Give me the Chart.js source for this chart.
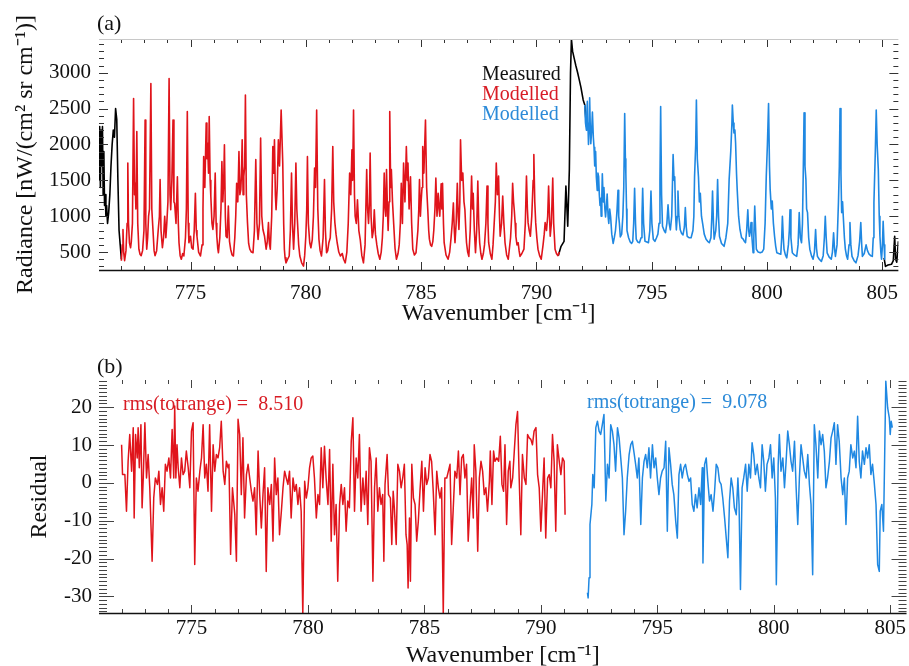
<!DOCTYPE html>
<html><head><meta charset="utf-8">
<script src="https://cdn.jsdelivr.net/npm/chart.js@4/dist/chart.umd.min.js"></script>
<style>
html,body{margin:0;padding:0;background:#fff;overflow:hidden;}
#wrap{position:relative;width:909px;height:666px;background:#fff;}
canvas{position:absolute;left:0;}
#ca{top:0;width:909px;height:330px;}
#cb{top:330px;width:909px;height:336px;}
</style></head><body>
<div id="wrap"><canvas id="ca" width="909" height="330"></canvas><canvas id="cb" width="909" height="336"></canvas></div>
<script>
// ---------- tick labels ----------
const wavenumberTicks = [775, 780, 785, 790, 795, 800, 805];
const radianceTicks = [500, 1000, 1500, 2000, 2500, 3000];
const residualTicks = [-30, -20, -10, 0, 10, 20];

// ---------- panel (a): measured radiance (visible parts) ----------
const measLeftX = [771.03,771.05,771.07,771.09,771.12,771.15,771.18,771.21,771.24,771.27,771.30,771.33,771.36,771.40,771.45,771.50,771.55,771.60,771.65,771.70,771.75,771.80,771.85,771.90,771.95,772.00];
const measLeftY = [2200,1500,2250,1400,2200,1700,2250,1300,1900,1150,1300,1000,1150,900,1050,1300,1700,2000,2200,2100,2500,2350,1500,800,600,400];
const measMidX = [790.95,791.07,791.20,791.28,791.36,791.43,791.48,791.52,791.57,791.64,791.71,791.79,791.86,791.93,792.03,792.10,792.17];
const measMidY = [450,580,650,1420,860,1650,3000,3470,3300,3200,3100,3000,2900,2800,2620,2550,2250];
const measRightX = [805.08,805.14,805.25,805.40,805.48,805.54,805.58,805.63,805.70];
const measRightY = [420,300,320,330,380,720,400,360,650];

// ---------- panel (a): modelled radiance, red part ----------
const redX = [772.00,772.04,772.07,772.10,772.14,772.20,772.25,772.28,772.31,772.35,772.40,772.43,772.48,772.53,772.57,772.60,772.63,772.67,772.71,772.76,772.81,772.86,772.92,772.98,773.03,773.06,773.10,773.14,773.18,773.22,773.28,773.32,773.37,773.42,773.46,773.53,773.60,773.65,773.68,773.72,773.78,773.83,773.88,773.93,773.97,774.02,774.07,774.11,774.14,774.19,774.24,774.28,774.31,774.37,774.43,774.47,774.50,774.55,774.60,774.66,774.71,774.78,774.82,774.86,774.90,774.93,775.00,775.05,775.11,775.16,775.21,775.25,775.28,775.35,775.43,775.50,775.54,775.57,775.62,775.68,775.71,775.74,775.78,775.81,775.85,775.88,775.93,775.97,776.02,776.07,776.11,776.14,776.18,776.21,776.27,776.32,776.36,776.40,776.44,776.47,776.51,776.54,776.59,776.64,776.69,776.74,776.80,776.86,776.92,776.96,777.00,777.05,777.10,777.14,777.18,777.21,777.24,777.28,777.31,777.35,777.38,777.42,777.47,777.52,777.57,777.64,777.71,777.77,777.83,777.88,777.93,777.99,778.04,778.09,778.14,778.21,778.28,778.33,778.38,778.42,778.46,778.52,778.57,778.61,778.64,778.68,778.71,778.76,778.81,778.86,778.93,779.00,779.04,779.07,779.10,779.14,779.21,779.28,779.33,779.38,779.42,779.47,779.52,779.57,779.61,779.64,779.69,779.74,779.82,779.90,779.95,780.00,780.04,780.07,780.11,780.17,780.22,780.28,780.33,780.38,780.42,780.47,780.52,780.57,780.62,780.68,780.75,780.81,780.85,780.90,780.95,781.00,781.06,781.12,781.17,781.21,781.26,781.31,781.36,781.43,781.50,781.58,781.64,781.71,781.78,781.84,781.90,781.95,782.00,782.03,782.07,782.11,782.14,782.19,782.24,782.30,782.36,782.43,782.50,782.57,782.64,782.68,782.72,782.76,782.79,782.83,782.88,782.93,782.97,783.02,783.08,783.14,783.21,783.27,783.32,783.36,783.40,783.44,783.47,783.50,783.54,783.57,783.61,783.64,783.68,783.71,783.76,783.81,783.87,783.93,784.00,784.05,784.10,784.14,784.19,784.24,784.30,784.36,784.40,784.43,784.48,784.54,784.59,784.64,784.71,784.78,784.86,784.90,784.93,784.97,785.00,785.04,785.07,785.12,785.19,785.24,785.29,785.33,785.36,785.41,785.46,785.51,785.55,785.60,785.64,785.69,785.74,785.78,785.81,785.87,785.90,785.93,785.97,786.00,786.08,786.17,786.24,786.30,786.35,786.40,786.44,786.47,786.52,786.57,786.61,786.64,786.68,786.71,786.76,786.81,786.86,786.90,786.94,786.97,787.02,787.07,787.13,787.19,787.23,787.26,787.31,787.36,787.41,787.46,787.50,787.54,787.59,787.64,787.70,787.75,787.81,787.86,787.90,787.93,788.00,788.07,788.12,788.17,788.22,788.26,788.31,788.36,788.40,788.43,788.49,788.54,788.59,788.64,788.71,788.78,788.83,788.88,788.93,788.97,789.01,789.04,789.08,789.11,789.16,789.21,789.25,789.29,789.37,789.46,789.52,789.57,789.61,789.64,789.69,789.74,789.80,789.86,789.89,789.93,789.97,790.02,790.07,790.14,790.21,790.29,790.34,790.38,790.44,790.49,790.53,790.57,790.60,790.65,790.71,790.75,790.81,790.87,790.93,791.00];
const redY = [380,600,815,500,380,520,900,1740,900,630,560,640,900,2640,1300,1460,1100,2180,900,540,470,450,520,800,2340,900,540,700,1000,1100,2850,1100,815,520,450,520,815,1000,1510,800,560,700,1000,700,900,1200,2920,1300,1090,1500,2340,1200,1180,900,1550,900,630,450,400,480,445,700,1100,2460,900,630,720,560,540,800,1320,800,720,500,445,600,1100,1830,1400,2300,1800,2020,1600,2390,1500,1280,900,815,1000,1600,900,720,550,490,700,1100,1760,1200,1500,1995,1000,720,700,1140,650,540,460,445,700,1000,1460,1200,1900,1300,1370,1600,2065,1300,1555,1700,2690,1300,910,620,540,500,490,800,1790,900,675,900,2090,1000,815,720,540,650,910,620,540,1000,1970,1600,2065,1300,1090,1400,2065,1700,2480,1740,900,540,420,350,400,445,800,1600,900,540,900,1740,1100,910,600,445,350,305,450,720,1100,1830,900,630,560,675,1000,1670,1400,2480,1100,675,520,445,700,1510,800,490,520,630,700,1100,1970,1200,910,750,630,500,445,480,400,350,500,900,1600,1300,1925,1500,2480,1300,1000,900,1230,800,675,450,350,600,1650,1100,900,1200,1880,1000,700,800,1090,750,600,480,400,500,700,1000,1600,1100,1000,1650,1100,800,1200,2460,1400,1650,1200,900,550,400,480,600,900,1460,900,1740,1200,1970,1500,1740,1100,1550,900,540,460,490,800,1100,1510,1000,1200,1400,1970,1600,2340,1400,1090,800,680,600,580,650,800,1100,1530,1000,1320,1100,1000,1450,1100,1460,900,630,460,400,500,700,900,1185,800,630,900,1460,1000,815,1200,2065,1500,1600,1200,1090,800,630,500,440,800,1560,1100,1320,800,490,800,1490,900,630,480,400,480,600,900,1420,900,630,480,400,600,900,1200,1740,1300,1560,1000,720,900,1280,900,630,460,400,550,700,1000,1460,1200,1090,900,720,600,630,520,440,480,540,900,1560,1100,910,800,720,1000,1500,1860,1200,910,700,540,450,400,600,750,910,800,1000,1420,1000,720,900,1530,900,540,480,450,500];

// ---------- panel (a): modelled radiance, blue part ----------
const blueX = [792.10,792.13,792.17,792.19,792.21,792.24,792.26,792.29,792.31,792.34,792.36,792.40,792.43,792.47,792.50,792.53,792.57,792.60,792.64,792.67,792.70,792.73,792.76,792.79,792.81,792.84,792.86,792.90,792.93,792.97,793.00,793.04,793.07,793.11,793.14,793.18,793.22,793.27,793.33,793.38,793.43,793.47,793.50,793.54,793.57,793.60,793.64,793.70,793.75,793.79,793.83,793.86,793.88,793.91,793.93,794.00,794.07,794.13,794.18,794.22,794.26,794.30,794.33,794.40,794.47,794.54,794.58,794.61,794.65,794.71,794.79,794.86,794.92,794.97,795.01,795.07,795.14,795.21,795.27,795.32,795.36,795.39,795.43,795.47,795.54,795.60,795.66,795.71,795.76,795.81,795.87,795.93,795.97,796.00,796.04,796.07,796.11,796.14,796.18,796.24,796.30,796.36,796.42,796.46,796.50,796.54,796.62,796.71,796.79,796.83,796.86,796.91,796.94,796.98,797.03,797.07,797.11,797.16,797.21,797.28,797.36,797.43,797.50,797.57,797.61,797.64,797.68,797.71,797.78,797.82,797.86,797.90,797.94,798.03,798.14,798.22,798.30,798.36,798.43,798.48,798.50,798.54,798.57,798.61,798.64,798.68,798.71,798.77,798.83,798.90,798.97,799.02,799.07,799.12,799.17,799.21,799.24,799.28,799.31,799.35,799.40,799.43,799.47,799.51,799.54,799.62,799.71,799.79,799.86,799.92,799.97,800.02,800.07,800.11,800.14,800.19,800.23,800.28,800.33,800.38,800.43,800.51,800.60,800.64,800.67,800.71,800.74,800.80,800.86,800.93,800.97,801.00,801.04,801.10,801.19,801.29,801.35,801.40,801.45,801.50,801.54,801.57,801.61,801.65,801.69,801.72,801.76,801.81,801.86,801.93,802.00,802.06,802.11,802.15,802.19,802.27,802.36,802.44,802.49,802.53,802.57,802.61,802.70,802.79,802.84,802.89,802.93,802.97,803.04,803.10,803.14,803.17,803.21,803.24,803.28,803.31,803.36,803.40,803.45,803.50,803.56,803.60,803.64,803.69,803.78,803.86,803.95,804.02,804.07,804.11,804.14,804.22,804.30,804.36,804.43,804.50,804.57,804.61,804.64,804.70,804.74,804.78,804.83,804.87,804.90,804.94,804.97,805.01,805.04,805.08,805.11];
const blueY = [2550,2300,2200,2450,2600,2250,2000,2300,2650,2200,2010,2200,2450,2100,1960,1700,1900,1550,1360,1600,1550,1300,1150,1250,1000,1300,1590,1200,1400,1100,990,1150,1310,1000,900,1100,990,750,620,700,800,950,1100,1360,1000,900,710,750,1000,1400,2430,1800,1600,1100,800,700,640,620,650,900,1390,900,680,640,630,700,1000,1390,900,650,640,630,800,1350,900,680,650,700,750,900,1500,2530,1300,860,800,770,900,1160,900,810,1000,1860,1500,1550,1000,810,1000,1350,1000,810,760,740,850,1120,850,720,700,700,800,1000,1550,2000,2620,1800,1550,1200,1320,1000,900,750,680,650,630,700,1000,1350,900,680,800,1000,1510,1000,720,620,580,700,900,1510,1900,2300,2550,2300,2160,2200,2020,1600,1370,1000,815,700,680,650,630,800,1090,800,720,800,910,700,490,700,1140,800,540,500,490,500,540,900,1550,2000,2570,1700,1370,1100,1210,900,720,580,490,480,470,700,1000,700,540,460,420,600,800,1090,700,490,460,440,600,1050,700,630,900,1510,2440,1700,1510,1100,1050,700,540,450,400,500,815,550,440,400,370,450,700,1000,700,490,430,400,500,770,550,440,600,1180,1700,2500,1600,1050,1200,1000,700,540,450,400,600,910,600,440,380,350,450,650,910,600,440,480,600,520,470,450,440,700,1190,1900,2480,2000,1650,1000,720,500,400,600,930,600,400];

// ---------- panel (b): residuals, red part ----------
const resRedX = [772.00,772.04,772.14,772.21,772.28,772.35,772.43,772.50,772.54,772.60,772.67,772.71,772.76,772.83,772.88,772.93,773.00,773.07,773.14,773.21,773.31,773.38,773.45,773.54,773.60,773.67,773.74,773.81,773.88,773.95,774.03,774.10,774.17,774.24,774.28,774.33,774.38,774.43,774.50,774.57,774.64,774.71,774.78,774.86,774.93,775.00,775.07,775.14,775.21,775.28,775.36,775.43,775.50,775.57,775.64,775.71,775.78,775.86,775.93,776.00,776.07,776.14,776.21,776.28,776.36,776.43,776.50,776.57,776.61,776.68,776.76,776.86,776.93,777.00,777.07,777.14,777.21,777.28,777.36,777.43,777.50,777.57,777.64,777.71,777.78,777.86,777.93,778.00,778.07,778.14,778.21,778.28,778.36,778.43,778.50,778.57,778.64,778.71,778.78,778.86,778.93,779.00,779.07,779.14,779.21,779.28,779.36,779.43,779.50,779.57,779.64,779.71,779.78,779.86,779.93,780.00,780.07,780.14,780.21,780.28,780.36,780.43,780.50,780.57,780.64,780.71,780.78,780.86,780.93,781.00,781.07,781.14,781.21,781.28,781.36,781.43,781.50,781.57,781.64,781.71,781.78,781.86,781.93,782.00,782.07,782.14,782.21,782.28,782.36,782.43,782.50,782.57,782.64,782.71,782.79,782.86,782.93,783.00,783.07,783.14,783.21,783.26,783.31,783.40,783.46,783.54,783.60,783.66,783.71,783.79,783.86,783.93,784.00,784.07,784.14,784.21,784.26,784.30,784.36,784.40,784.46,784.53,784.60,784.67,784.74,784.81,784.89,784.96,785.03,785.10,785.17,785.24,785.31,785.38,785.46,785.53,785.60,785.67,785.74,785.81,785.88,785.96,786.03,786.10,786.17,786.24,786.31,786.39,786.46,786.53,786.60,786.67,786.74,786.81,786.88,786.96,787.03,787.10,787.14,787.21,787.29,787.36,787.43,787.50,787.57,787.64,787.71,787.79,787.83,787.90,787.97,788.03,788.11,788.19,788.26,788.33,788.40,788.46,788.53,788.60,788.67,788.71,788.79,788.86,788.93,789.00,789.07,789.14,789.21,789.29,789.36,789.43,789.50,789.57,789.64,789.71,789.79,789.86,789.93,790.00,790.07,790.14,790.21,790.29,790.36,790.43,790.50,790.57,790.64,790.71,790.79,790.86,790.93,791.00,791.04];
const resRedY = [10.1,2.2,2.2,-7.5,5.7,12.8,3.1,14.6,-9.3,12.8,6.6,14.6,4.0,15.4,-6.6,1.3,15.9,1.3,7.5,-1.3,-20.7,-4.0,1.3,-0.4,3.1,-5.7,-1.3,-7.5,4.9,3.1,6.6,1.3,14.1,1.3,20.3,1.3,10.1,4.0,-1.3,6.6,2.2,3.1,8.4,4.0,-1.3,13.7,15.9,-21.6,1.3,-2.2,3.1,6.6,15.4,1.3,4.9,-2.2,15.4,-7.5,10.1,3.1,7.5,6.6,9.3,16.3,3.1,-0.4,5.7,4.0,4.9,-18.9,-1.3,-8.4,-20.7,16.8,12.8,-3.1,11.9,-9.3,2.2,4.9,1.3,-2.2,-4.8,-1.3,-13.7,8.4,-3.1,-11.9,-3.1,4.0,-23.4,-1.3,-5.7,-0.4,-15.4,6.6,-3.1,1.3,-13.7,-7.5,-1.3,3.1,1.3,-0.4,3.1,-9.3,1.3,-2.2,-0.4,-5.7,-1.3,-7.5,-34.8,0.4,-4.0,-1.3,4.0,6.6,7.1,1.3,-9.3,-3.1,-5.7,9.3,-1.3,9.7,1.3,-5.7,8.8,-15.4,4.9,-13.7,-5.7,-26.0,-5.7,-0.4,-5.7,-1.3,-12.8,-4.8,-6.6,11.0,17.2,-7.5,6.6,1.3,12.8,-7.5,1.3,-5.7,3.1,-11.0,9.3,5.7,-26.0,-1.3,6.6,-7.5,-1.3,-5.7,-3.1,-20.7,-0.4,7.5,-3.1,-4.0,-16.3,-2.2,-6.6,-16.3,4.9,3.1,-1.3,1.3,4.9,-13.7,-16.3,-27.8,-9.3,-26.0,4.9,-4.0,-5.7,-15.4,-10.1,-2.2,5.7,-7.5,4.0,-0.4,1.3,7.5,5.7,-2.2,-13.7,3.1,-1.3,-4.0,-1.3,-34.8,1.3,1.3,3.1,4.9,-16.3,-6.6,3.1,1.3,8.4,-3.1,6.6,7.5,1.3,4.9,-15.4,-5.7,1.3,-9.3,10.1,3.1,-18.1,1.3,5.7,3.1,-3.1,-1.3,-7.5,0.4,8.4,-5.7,8.4,5.7,6.6,5.7,12.3,-0.4,-2.2,10.1,-11.0,3.1,5.7,-1.3,1.3,8.4,15.4,18.9,1.3,-13.7,7.5,1.3,-0.4,12.8,11.9,11.5,10.1,13.7,14.6,2.2,-1.3,-12.8,-3.1,6.6,-14.6,1.3,2.2,-1.3,12.8,5.7,-12.8,10.1,5.7,2.2,6.6,5.7,-8.4];

// ---------- panel (b): residuals, blue part ----------
const resBlueX = [792.00,792.03,792.07,792.11,792.19,792.23,792.29,792.36,792.43,792.50,792.57,792.64,792.71,792.79,792.86,792.93,793.00,793.07,793.14,793.21,793.29,793.36,793.43,793.50,793.57,793.64,793.71,793.79,793.86,793.93,794.00,794.07,794.14,794.21,794.29,794.36,794.43,794.50,794.57,794.64,794.71,794.79,794.86,794.93,795.00,795.07,795.14,795.21,795.29,795.36,795.43,795.50,795.57,795.64,795.71,795.79,795.86,795.93,796.00,796.07,796.14,796.21,796.29,796.36,796.43,796.50,796.57,796.64,796.71,796.79,796.86,796.93,796.96,797.03,797.10,797.17,797.24,797.31,797.39,797.46,797.53,797.60,797.67,797.74,797.81,797.89,797.96,798.03,798.10,798.17,798.24,798.31,798.39,798.46,798.51,798.57,798.64,798.71,798.79,798.86,798.93,799.00,799.07,799.14,799.21,799.29,799.36,799.43,799.50,799.57,799.64,799.71,799.79,799.86,799.93,800.00,800.07,800.11,800.19,800.24,800.31,800.39,800.46,800.53,800.60,800.67,800.74,800.81,800.89,800.96,801.03,801.10,801.17,801.24,801.31,801.39,801.46,801.53,801.60,801.67,801.74,801.81,801.89,801.96,802.03,802.10,802.17,802.24,802.31,802.39,802.46,802.53,802.60,802.67,802.74,802.81,802.89,802.96,803.03,803.10,803.17,803.24,803.31,803.39,803.46,803.53,803.60,803.67,803.74,803.81,803.89,803.96,804.03,804.10,804.17,804.24,804.31,804.39,804.46,804.53,804.57,804.64,804.71,804.76,804.81,804.89,804.96,805.00,805.04,805.09];
const resBlueY = [-29.0,-30.4,-25.1,-11.0,-5.7,2.2,-1.3,14.6,16.3,13.7,12.8,15.4,18.1,-4.8,4.9,1.3,15.4,13.7,10.1,3.1,14.6,11.9,6.6,1.3,-13.7,-7.5,1.3,7.5,10.1,11.0,8.0,4.9,1.3,6.6,-11.0,1.3,5.7,7.5,4.0,9.3,1.3,10.1,4.0,6.6,1.3,-3.1,1.3,3.1,4.0,11.0,-12.8,9.3,4.9,-0.4,-3.1,-10.1,-14.6,2.2,4.9,1.3,4.0,4.9,2.2,0.4,1.3,-5.7,-7.5,-3.1,-6.6,-1.3,-5.7,4.0,-21.2,4.9,6.6,0.4,-4.8,-3.1,-7.5,-2.2,4.9,4.0,0.4,-0.4,-4.0,-9.3,-14.6,-19.8,-4.8,1.3,-1.3,-6.6,-8.4,1.3,-5.7,-28.2,-1.3,1.3,4.9,-2.2,4.9,1.3,10.6,7.5,2.2,4.9,1.3,-1.3,10.1,5.7,-2.2,4.9,6.6,10.1,1.3,6.6,-4.0,-26.9,4.9,12.8,3.1,6.6,-1.3,5.7,13.7,10.1,5.7,3.1,11.0,-1.3,-11.0,1.3,10.1,6.6,3.1,1.3,7.5,-0.4,-5.7,-24.3,15.4,10.1,1.3,13.7,10.1,12.8,8.4,-1.3,1.3,5.7,11.9,13.7,15.9,4.9,15.4,11.0,1.3,-3.1,1.3,-11.0,1.3,3.1,10.1,6.6,8.4,4.0,17.6,5.7,1.3,8.4,4.9,9.3,6.6,10.1,2.2,4.9,0.4,-5.7,-21.6,-23.4,-7.5,-5.7,-12.8,6.6,26.9,19.8,17.2,12.8,16.3,14.6];

// ---------- styles ----------
const FONT = "'Liberation Serif', 'Times New Roman', serif";
const RED = '#e0141b';
const BLUE = '#1f88e2';
const RED_TXT = '#d81c24';
const BLUE_TXT = '#2b8ad8';
Chart.defaults.font.family = FONT;
Chart.defaults.color = '#111';

function pts(xs, ys) { return xs.map((x, i) => ({ x: x, y: ys[i] })); }
function joinSegments(segs) {
  const out = [];
  segs.forEach((s, k) => {
    if (k > 0) out.push({ x: (s[0][0] + out[out.length - 1].x) / 2, y: null });
    pts(s[0], s[1]).forEach(p => out.push(p));
  });
  return out;
}

const tickCfg = {
  ca: { xMajor: 8, xMinor: 4, yMajorStep: 500, yMinorStep: 100, yMajor: 9, yMinor: 5, topLine: true, color: '#333' },
  cb: { xMajor: 8, xMinor: 4, yMajorStep: 10, yMinorStep: 1, yMajor: 15, yMinor: 8, topLine: false, color: '#444' }
};
const textCfg = {
  ca: [
    { text: '(a)', x: 97, y: 30, size: 22, color: '#111' },
    { text: 'Measured', x: 482, y: 80, size: 20, color: '#111' },
    { text: 'Modelled', x: 482, y: 100, size: 20, color: RED_TXT },
    { text: 'Modelled', x: 482, y: 120, size: 20, color: BLUE_TXT }
  ],
  cb: [
    { text: '(b)', x: 97, y: 43, size: 22, color: '#111' },
    { text: 'rms(totrange) =  8.510', x: 123, y: 80, size: 20, color: RED_TXT },
    { text: 'rms(totrange) =  9.078', x: 587, y: 78, size: 20, color: BLUE_TXT }
  ]
};

const idlTicks = {
  id: 'idlTicks',
  afterDatasetsDraw(chart) {
    const cfg = tickCfg[chart.canvas.id];
    const { ctx, chartArea: a } = chart;
    const x = chart.scales.x, y = chart.scales.y;
    ctx.save();
    ctx.lineWidth = 1;
    ctx.strokeStyle = cfg.color;
    ctx.beginPath();
    for (let v = Math.ceil(x.min); v <= x.max; v++) {
      const px = Math.round(x.getPixelForValue(v)) + 0.5;
      const L = (v % 5 === 0) ? cfg.xMajor : cfg.xMinor;
      ctx.moveTo(px, a.bottom); ctx.lineTo(px, a.bottom - L);
      ctx.moveTo(px, a.top); ctx.lineTo(px, a.top + L);
    }
    const st = cfg.yMinorStep;
    for (let v = Math.ceil(y.min / st) * st; v <= y.max; v += st) {
      const py = Math.round(y.getPixelForValue(v)) + 0.5;
      const major = Math.abs(v % cfg.yMajorStep) < 1e-6;
      const L = major ? cfg.yMajor : cfg.yMinor;
      ctx.moveTo(a.left, py); ctx.lineTo(a.left + L, py);
      ctx.moveTo(a.right, py); ctx.lineTo(a.right - L, py);
    }
    ctx.stroke();
    ctx.strokeStyle = '#111';
    ctx.lineWidth = 1.5;
    ctx.beginPath(); ctx.moveTo(a.left, a.bottom + 0.5); ctx.lineTo(a.right, a.bottom + 0.5); ctx.stroke();
    if (cfg.topLine) {
      ctx.strokeStyle = '#c8c8c8'; ctx.lineWidth = 1;
      ctx.beginPath(); ctx.moveTo(a.left, a.top + 0.5); ctx.lineTo(a.right, a.top + 0.5); ctx.stroke();
    }
    ctx.restore();
  },
  afterDraw(chart) {
    const items = textCfg[chart.canvas.id];
    const ctx = chart.ctx;
    ctx.save();
    ctx.textAlign = 'left';
    ctx.textBaseline = 'alphabetic';
    items.forEach(it => {
      ctx.font = it.size + 'px ' + FONT;
      ctx.fillStyle = it.color;
      ctx.fillText(it.text, it.x, it.y);
    });
    ctx.restore();
  }
};

function baseOptions(o) {
  return {
    responsive: false, animation: false, devicePixelRatio: 1,
    elements: { point: { radius: 0 }, line: { tension: 0, borderJoinStyle: 'round' } },
    spanGaps: false,
    layout: { padding: { top: o.padTop, right: 1, left: 0, bottom: 0 } },
    plugins: { legend: { display: false }, tooltip: { enabled: false } },
    scales: {
      x: {
        type: 'linear', min: 771.03, max: 805.70,
        afterBuildTicks: s => { s.ticks = wavenumberTicks.map(v => ({ value: v })); },
        grid: { display: false, drawTicks: false }, border: { display: false },
        ticks: { font: { size: 21 }, padding: o.xPad, color: '#111', maxRotation: 0, autoSkip: false, callback: v => String(v) },
        title: { display: true, text: 'Wavenumber [cm⁻¹]', font: { size: 24, lineHeight: 1 }, padding: { top: 0, bottom: o.xTitlePad }, color: '#111' },
        afterFit: s => { s.height = o.xHeight; }
      },
      y: {
        type: 'linear', min: o.yMin, max: o.yMax,
        afterBuildTicks: s => { s.ticks = o.yTicks.map(v => ({ value: v })); },
        grid: { display: false, drawTicks: false }, border: { display: false },
        ticks: { font: { size: 21 }, padding: o.yPad, color: '#111', autoSkip: false, callback: v => String(v) },
        title: { display: true, text: o.yTitle, font: { size: 24, lineHeight: 1 }, padding: { top: o.yTitlePad, bottom: 0 }, color: '#111' },
        afterFit: s => { s.width = 99; }
      }
    }
  };
}

new Chart(document.getElementById('ca'), {
  type: 'line',
  data: {
    datasets: [
      { label: 'Modelled', data: pts(redX, redY), borderColor: RED, borderWidth: 1.6, order: 1 },
      { label: 'Modelled', data: pts(blueX, blueY), borderColor: BLUE, borderWidth: 1.6, order: 1 },
      { label: 'Measured', data: joinSegments([[measLeftX, measLeftY], [measMidX, measMidY], [measRightX, measRightY]]), borderColor: '#000', borderWidth: 1.6, order: 2 }
    ]
  },
  options: baseOptions({ padTop: 39, xHeight: 60, xPad: 11, xTitlePad: 4, yMin: 250, yMax: 3470, yTicks: radianceTicks, yPad: 8, yTitle: 'Radiance [nW/(cm² sr cm⁻¹)]', yTitlePad: 14 }),
  plugins: [idlTicks]
});

new Chart(document.getElementById('cb'), {
  type: 'line',
  data: {
    datasets: [
      { label: 'Residual (red)', data: pts(resRedX, resRedY), borderColor: RED, borderWidth: 1.5 },
      { label: 'Residual (blue)', data: pts(resBlueX, resBlueY), borderColor: BLUE, borderWidth: 1.5 }
    ]
  },
  options: baseOptions({ padTop: 50, xHeight: 53, xPad: 3, xTitlePad: -2, yMin: -34.4, yMax: 27.2, yTicks: residualTicks, yPad: 7, yTitle: 'Residual', yTitlePad: 28 }),
  plugins: [idlTicks]
});
</script></body></html>
